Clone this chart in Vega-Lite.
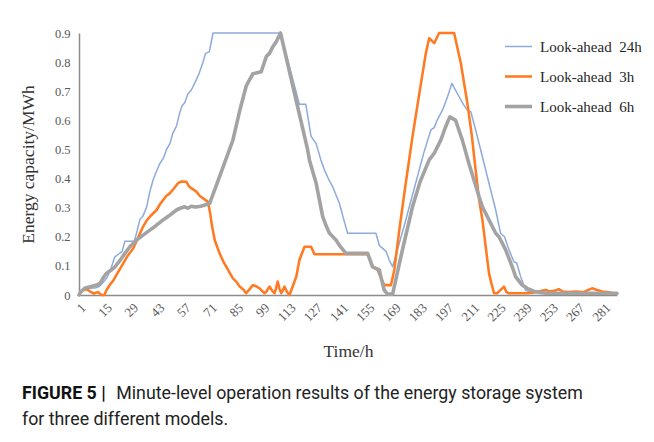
{
  "$schema": "https://vega.github.io/schema/vega-lite/v6.json",
  "width": 538,
  "height": 262,
  "autosize": {"type": "none"},
  "padding": {"left": 79, "top": 33, "right": 37, "bottom": 147},
  "background": "white",
  "title": {
    "text": "FIGURE 5 |",
    "subtitle": ["\u200b\u2002\u2002\u2002\u2002\u2002\u2002\u2002\u2002\u2002\u2002\u2009Minute-level operation results of the energy storage system", "for three different models."],
    "orient": "bottom",
    "anchor": "start",
    "frame": "group",
    "font": "Roboto",
    "fontSize": 17.8,
    "fontWeight": "bold",
    "color": "#111111",
    "subtitleFont": "Roboto",
    "subtitleFontSize": 17.8,
    "subtitleFontWeight": "normal",
    "subtitleColor": "#222222",
    "subtitleLineHeight": 26,
    "subtitlePadding": -17.8,
    "dx": -57,
    "offset": 25
  },
  "data": {
    "values": [
      {"s":"24h","t":1,"v":0},{"s":"24h","t":3,"v":0.015},{"s":"24h","t":6,"v":0.022},{"s":"24h","t":10,"v":0.025},{"s":"24h","t":12,"v":0.03},{"s":"24h","t":14,"v":0.045},{"s":"24h","t":16,"v":0.06},{"s":"24h","t":18,"v":0.09},{"s":"24h","t":20,"v":0.13},{"s":"24h","t":22,"v":0.14},{"s":"24h","t":24,"v":0.15},{"s":"24h","t":25.5,"v":0.185},{"s":"24h","t":30.5,"v":0.185},{"s":"24h","t":32,"v":0.22},{"s":"24h","t":33.5,"v":0.26},{"s":"24h","t":35,"v":0.27},{"s":"24h","t":37,"v":0.3},{"s":"24h","t":39,"v":0.36},{"s":"24h","t":40.5,"v":0.395},{"s":"24h","t":42,"v":0.42},{"s":"24h","t":44,"v":0.45},{"s":"24h","t":46,"v":0.47},{"s":"24h","t":47.7,"v":0.5},{"s":"24h","t":49.5,"v":0.52},{"s":"24h","t":51,"v":0.555},{"s":"24h","t":53,"v":0.58},{"s":"24h","t":54.7,"v":0.625},{"s":"24h","t":56,"v":0.65},{"s":"24h","t":57.4,"v":0.66},{"s":"24h","t":59,"v":0.69},{"s":"24h","t":61,"v":0.705},{"s":"24h","t":63.6,"v":0.74},{"s":"24h","t":65,"v":0.76},{"s":"24h","t":67,"v":0.797},{"s":"24h","t":68.5,"v":0.83},{"s":"24h","t":70.5,"v":0.835},{"s":"24h","t":72.5,"v":0.9},{"s":"24h","t":108.5,"v":0.9},{"s":"24h","t":118.6,"v":0.655},{"s":"24h","t":122,"v":0.655},{"s":"24h","t":124.8,"v":0.545},{"s":"24h","t":127.5,"v":0.52},{"s":"24h","t":130,"v":0.465},{"s":"24h","t":131.9,"v":0.43},{"s":"24h","t":134,"v":0.4},{"s":"24h","t":136.3,"v":0.372},{"s":"24h","t":138,"v":0.345},{"s":"24h","t":139.9,"v":0.315},{"s":"24h","t":142,"v":0.265},{"s":"24h","t":144.3,"v":0.212},{"s":"24h","t":159.4,"v":0.212},{"s":"24h","t":161.2,"v":0.17},{"s":"24h","t":163,"v":0.16},{"s":"24h","t":164.8,"v":0.15},{"s":"24h","t":166.5,"v":0.12},{"s":"24h","t":168.3,"v":0.097},{"s":"24h","t":170,"v":0.135},{"s":"24h","t":175,"v":0.25},{"s":"24h","t":180,"v":0.37},{"s":"24h","t":185,"v":0.49},{"s":"24h","t":188.7,"v":0.567},{"s":"24h","t":190.5,"v":0.575},{"s":"24h","t":192,"v":0.6},{"s":"24h","t":194.9,"v":0.635},{"s":"24h","t":197.6,"v":0.681},{"s":"24h","t":199.9,"v":0.727},{"s":"24h","t":203.8,"v":0.681},{"s":"24h","t":206,"v":0.655},{"s":"24h","t":208.2,"v":0.635},{"s":"24h","t":210,"v":0.63},{"s":"24h","t":212.6,"v":0.567},{"s":"24h","t":216.2,"v":0.475},{"s":"24h","t":219.7,"v":0.384},{"s":"24h","t":223.3,"v":0.292},{"s":"24h","t":225.9,"v":0.212},{"s":"24h","t":228,"v":0.2},{"s":"24h","t":230.4,"v":0.155},{"s":"24h","t":233,"v":0.114},{"s":"24h","t":234.5,"v":0.11},{"s":"24h","t":236.6,"v":0.063},{"s":"24h","t":239.2,"v":0.017},{"s":"24h","t":241,"v":0.011},{"s":"24h","t":250,"v":0.006},{"s":"24h","t":270,"v":0.006},{"s":"24h","t":288,"v":0.005},

      {"s":"3h","t":1,"v":0},{"s":"3h","t":2,"v":0.01},{"s":"3h","t":3.3,"v":0.017},{"s":"3h","t":5,"v":0.02},{"s":"3h","t":7,"v":0.012},{"s":"3h","t":9,"v":0.005},{"s":"3h","t":11,"v":0.01},{"s":"3h","t":13,"v":0},{"s":"3h","t":14.5,"v":0},{"s":"3h","t":15.7,"v":0.017},{"s":"3h","t":17.5,"v":0.035},{"s":"3h","t":19.3,"v":0.05},{"s":"3h","t":22,"v":0.08},{"s":"3h","t":24.6,"v":0.109},{"s":"3h","t":27,"v":0.135},{"s":"3h","t":29.9,"v":0.16},{"s":"3h","t":32,"v":0.19},{"s":"3h","t":35.2,"v":0.235},{"s":"3h","t":37,"v":0.255},{"s":"3h","t":38.8,"v":0.269},{"s":"3h","t":40.5,"v":0.28},{"s":"3h","t":42.4,"v":0.292},{"s":"3h","t":44,"v":0.31},{"s":"3h","t":45.9,"v":0.326},{"s":"3h","t":47.5,"v":0.34},{"s":"3h","t":49.4,"v":0.349},{"s":"3h","t":51.5,"v":0.365},{"s":"3h","t":53.8,"v":0.384},{"s":"3h","t":55.7,"v":0.39},{"s":"3h","t":58.3,"v":0.389},{"s":"3h","t":59.5,"v":0.375},{"s":"3h","t":61,"v":0.366},{"s":"3h","t":62.5,"v":0.36},{"s":"3h","t":63.6,"v":0.355},{"s":"3h","t":65.5,"v":0.34},{"s":"3h","t":67.2,"v":0.332},{"s":"3h","t":69.8,"v":0.32},{"s":"3h","t":71,"v":0.28},{"s":"3h","t":72,"v":0.235},{"s":"3h","t":73.4,"v":0.189},{"s":"3h","t":75,"v":0.16},{"s":"3h","t":76,"v":0.143},{"s":"3h","t":78,"v":0.115},{"s":"3h","t":79.6,"v":0.097},{"s":"3h","t":81.5,"v":0.075},{"s":"3h","t":83.1,"v":0.057},{"s":"3h","t":85,"v":0.045},{"s":"3h","t":86.7,"v":0.029},{"s":"3h","t":88.5,"v":0.02},{"s":"3h","t":90.2,"v":0.006},{"s":"3h","t":92,"v":0.02},{"s":"3h","t":93.8,"v":0.034},{"s":"3h","t":95.5,"v":0.03},{"s":"3h","t":97.3,"v":0.023},{"s":"3h","t":98.5,"v":0.015},{"s":"3h","t":100,"v":0.006},{"s":"3h","t":101,"v":0.012},{"s":"3h","t":102.6,"v":0.029},{"s":"3h","t":104,"v":0.015},{"s":"3h","t":105.3,"v":0.006},{"s":"3h","t":106,"v":0.02},{"s":"3h","t":107,"v":0.046},{"s":"3h","t":108,"v":0.02},{"s":"3h","t":108.9,"v":0.006},{"s":"3h","t":110,"v":0.02},{"s":"3h","t":110.6,"v":0.029},{"s":"3h","t":112,"v":0.01},{"s":"3h","t":113.3,"v":0},{"s":"3h","t":115,"v":0.029},{"s":"3h","t":116.9,"v":0.063},{"s":"3h","t":118.6,"v":0.12},{"s":"3h","t":121.3,"v":0.166},{"s":"3h","t":124.8,"v":0.166},{"s":"3h","t":126.6,"v":0.14},{"s":"3h","t":155,"v":0.14},{"s":"3h","t":157.6,"v":0.097},{"s":"3h","t":160.3,"v":0.086},{"s":"3h","t":162,"v":0.06},{"s":"3h","t":163.8,"v":0.034},{"s":"3h","t":167.4,"v":0.034},{"s":"3h","t":169.2,"v":0.086},{"s":"3h","t":172,"v":0.23},{"s":"3h","t":175,"v":0.37},{"s":"3h","t":178.9,"v":0.544},{"s":"3h","t":182,"v":0.67},{"s":"3h","t":186,"v":0.83},{"s":"3h","t":187.8,"v":0.882},{"s":"3h","t":189,"v":0.875},{"s":"3h","t":190.5,"v":0.865},{"s":"3h","t":193.1,"v":0.9},{"s":"3h","t":201.1,"v":0.9},{"s":"3h","t":204.7,"v":0.796},{"s":"3h","t":208.2,"v":0.658},{"s":"3h","t":210.5,"v":0.55},{"s":"3h","t":212.6,"v":0.429},{"s":"3h","t":214.4,"v":0.33},{"s":"3h","t":216.2,"v":0.258},{"s":"3h","t":217.5,"v":0.19},{"s":"3h","t":219.7,"v":0.075},{"s":"3h","t":221,"v":0.04},{"s":"3h","t":222.4,"v":0.006},{"s":"3h","t":224,"v":0.006},{"s":"3h","t":225.5,"v":0.015},{"s":"3h","t":227.7,"v":0.029},{"s":"3h","t":229,"v":0.01},{"s":"3h","t":230.4,"v":0.006},{"s":"3h","t":240,"v":0.006},{"s":"3h","t":243,"v":0.008},{"s":"3h","t":246,"v":0.012},{"s":"3h","t":249.9,"v":0.017},{"s":"3h","t":252,"v":0.012},{"s":"3h","t":255,"v":0.015},{"s":"3h","t":257,"v":0.02},{"s":"3h","t":259,"v":0.012},{"s":"3h","t":262,"v":0.01},{"s":"3h","t":266,"v":0.012},{"s":"3h","t":270,"v":0.01},{"s":"3h","t":274.7,"v":0.023},{"s":"3h","t":277,"v":0.018},{"s":"3h","t":280,"v":0.012},{"s":"3h","t":283,"v":0.01},{"s":"3h","t":286,"v":0.006},{"s":"3h","t":288,"v":0.005},

      {"s":"6h","t":1,"v":0},{"s":"6h","t":2,"v":0.012},{"s":"6h","t":4.2,"v":0.024},{"s":"6h","t":7,"v":0.028},{"s":"6h","t":10.4,"v":0.034},{"s":"6h","t":12.2,"v":0.04},{"s":"6h","t":14,"v":0.06},{"s":"6h","t":15.7,"v":0.075},{"s":"6h","t":18,"v":0.085},{"s":"6h","t":20.2,"v":0.097},{"s":"6h","t":23,"v":0.12},{"s":"6h","t":25.5,"v":0.143},{"s":"6h","t":28,"v":0.165},{"s":"6h","t":31.7,"v":0.189},{"s":"6h","t":35,"v":0.205},{"s":"6h","t":38.8,"v":0.223},{"s":"6h","t":42,"v":0.238},{"s":"6h","t":45.9,"v":0.258},{"s":"6h","t":49,"v":0.272},{"s":"6h","t":53,"v":0.292},{"s":"6h","t":55,"v":0.298},{"s":"6h","t":57.4,"v":0.303},{"s":"6h","t":59,"v":0.298},{"s":"6h","t":61,"v":0.305},{"s":"6h","t":63,"v":0.302},{"s":"6h","t":66,"v":0.305},{"s":"6h","t":68.5,"v":0.31},{"s":"6h","t":70.7,"v":0.315},{"s":"6h","t":77,"v":0.425},{"s":"6h","t":83.1,"v":0.532},{"s":"6h","t":87,"v":0.64},{"s":"6h","t":90.2,"v":0.718},{"s":"6h","t":92,"v":0.74},{"s":"6h","t":93.8,"v":0.76},{"s":"6h","t":98.2,"v":0.767},{"s":"6h","t":100.9,"v":0.819},{"s":"6h","t":102.6,"v":0.83},{"s":"6h","t":104.4,"v":0.853},{"s":"6h","t":106.2,"v":0.87},{"s":"6h","t":108.5,"v":0.9},{"s":"6h","t":123,"v":0.498},{"s":"6h","t":123.9,"v":0.464},{"s":"6h","t":127.5,"v":0.384},{"s":"6h","t":131,"v":0.269},{"s":"6h","t":133,"v":0.235},{"s":"6h","t":134.6,"v":0.212},{"s":"6h","t":138.1,"v":0.189},{"s":"6h","t":140,"v":0.17},{"s":"6h","t":143.4,"v":0.143},{"s":"6h","t":155,"v":0.143},{"s":"6h","t":157.6,"v":0.097},{"s":"6h","t":161.2,"v":0.086},{"s":"6h","t":162.5,"v":0.05},{"s":"6h","t":163.8,"v":0.017},{"s":"6h","t":165.6,"v":0.003},{"s":"6h","t":168.3,"v":0.003},{"s":"6h","t":173,"v":0.14},{"s":"6h","t":178.9,"v":0.303},{"s":"6h","t":183,"v":0.39},{"s":"6h","t":187.8,"v":0.464},{"s":"6h","t":190.5,"v":0.487},{"s":"6h","t":194,"v":0.532},{"s":"6h","t":196.6,"v":0.578},{"s":"6h","t":198.8,"v":0.612},{"s":"6h","t":201.9,"v":0.6},{"s":"6h","t":205.5,"v":0.532},{"s":"6h","t":209,"v":0.452},{"s":"6h","t":211.7,"v":0.395},{"s":"6h","t":214.4,"v":0.338},{"s":"6h","t":216.2,"v":0.303},{"s":"6h","t":219.7,"v":0.258},{"s":"6h","t":223.3,"v":0.212},{"s":"6h","t":225,"v":0.2},{"s":"6h","t":226.8,"v":0.178},{"s":"6h","t":228.6,"v":0.155},{"s":"6h","t":232.1,"v":0.097},{"s":"6h","t":233.9,"v":0.063},{"s":"6h","t":237.4,"v":0.034},{"s":"6h","t":240.1,"v":0.023},{"s":"6h","t":244.5,"v":0.011},{"s":"6h","t":250,"v":0.006},{"s":"6h","t":270,"v":0.006},{"s":"6h","t":288,"v":0.006}
    ]
  },
  "mark": {"type": "line", "strokeJoin": "round", "strokeCap": "round"},
  "encoding": {
    "x": {
      "field": "t", "type": "quantitative",
      "scale": {"domain": [1, 288], "nice": false, "zero": false},
      "axis": {
        "values": [1, 15, 29, 43, 57, 71, 85, 99, 113, 127, 141, 155, 169, 183, 197, 211, 225, 239, 253, 267, 281],
        "labelAngle": -45, "labelPadding": 6, "labelFontSize": 13, "ticks": false, "grid": false,
        "title": "Time/h", "titlePadding": 19
      }
    },
    "y": {
      "field": "v", "type": "quantitative",
      "scale": {"domain": [0, 0.9], "nice": false},
      "axis": {
        "values": [0, 0.1, 0.2, 0.3, 0.4, 0.5, 0.6, 0.7, 0.8, 0.9],
        "labelExpr": "datum.value == 0 ? '0' : format(datum.value, '.1f')",
        "labelPadding": 9, "labelFontSize": 12.5, "ticks": false, "grid": false,
        "title": "Energy capacity/MWh", "titlePadding": 17
      }
    },
    "color": {
      "field": "s", "type": "nominal",
      "scale": {"domain": ["24h", "3h", "6h"], "range": ["#8DAADB", "#FF7A21", "#A3A3A3"]},
      "legend": {"title": null, "labelExpr": "'Look-ahead\u2002' + datum.label"}
    },
    "strokeWidth": {
      "field": "s", "type": "nominal",
      "scale": {"domain": ["24h", "3h", "6h"], "range": [1.5, 3.6, 3.6]},
      "legend": {"title": null, "labelExpr": "'Look-ahead\u2002' + datum.label"}
    }
  },
  "config": {
    "view": {"stroke": null},
    "axis": {
      "domainColor": "#8C8C8C", "domainWidth": 1.5,
      "labelFont": "Liberation Serif", "labelFontSize": 12, "labelColor": "#595959",
      "titleFont": "Liberation Serif", "titleFontSize": 17.5, "titleFontWeight": "normal", "titleColor": "#333333"
    },
    "legend": {
      "orient": "none", "legendX": 424, "legendY": -1,
      "symbolType": "stroke", "symbolSize": 729,
      "labelFont": "Liberation Serif", "labelFontSize": 15, "labelColor": "#262626",
      "labelOffset": 6, "rowPadding": 6.5
    }
  }
}
